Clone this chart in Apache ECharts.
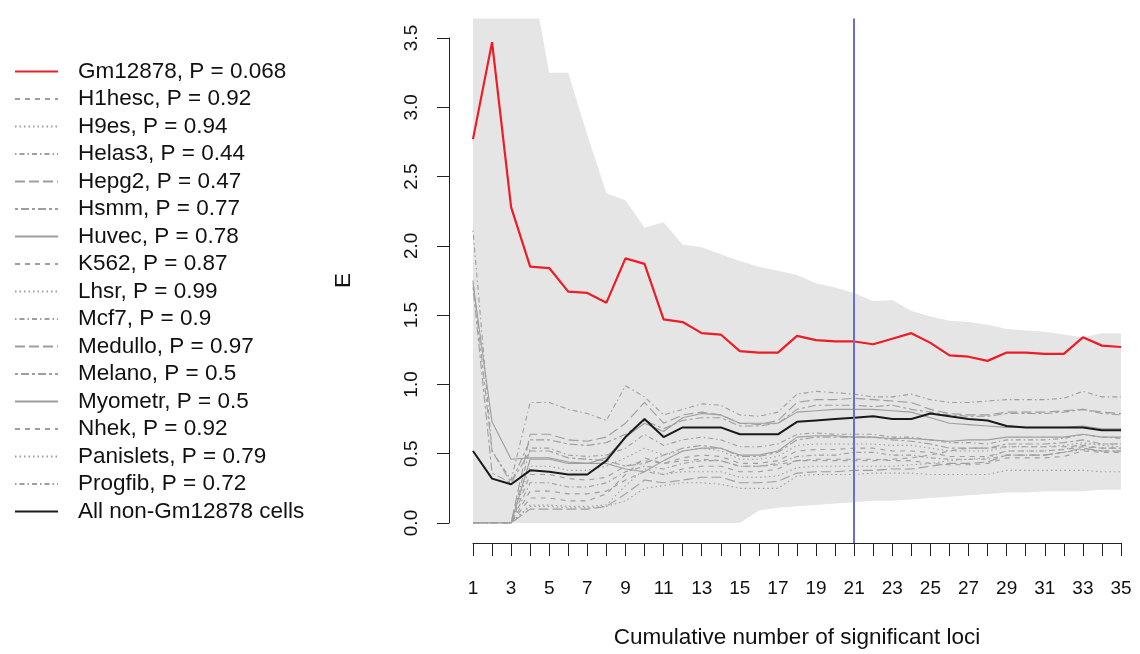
<!DOCTYPE html>
<html lang="en">
<head>
<meta charset="UTF-8" />
<title>E by cumulative number of significant loci</title>
<script src="https://cdn.jsdelivr.net/npm/echarts@6.0.0/dist/echarts.min.js"></script>
<style>
  html, body { margin: 0; padding: 0; background: #fff; }
  #chart { width: 1140px; height: 654px; }
</style>
</head>
<body>
<div id="chart"></div>
<script>
// x categories
const loci = ["1","2","3","4","5","6","7","8","9","10","11","12","13","14","15","16","17","18",
  "19","20","21","22","23","24","25","26","27","28","29","30","31","32","33","34","35"];
const yTicks = [0, 0.5, 1, 1.5, 2, 2.5, 3, 3.5];
const yPlotMax = 3.64; // plot region goes a little past the last tick, like R
const markedLocus = "21";

// grey envelope (values above the plot region are clipped)
const bandHigh = [4.2, 4.2, 4.1, 4.0, 3.25, 3.25, 2.8, 2.38, 2.33, 2.13, 2.17, 2.01, 1.99, 1.94, 1.89, 1.85, 1.82, 1.79,
  1.73, 1.7, 1.66, 1.6, 1.61, 1.53, 1.49, 1.46, 1.45, 1.43, 1.4, 1.39, 1.38, 1.36, 1.34, 1.37, 1.37];
const bandLow = [0, 0, 0, 0, 0, 0, 0, 0, 0, 0, 0, 0, 0, 0, 0, 0.09, 0.11, 0.12,
  0.13, 0.14, 0.15, 0.16, 0.16, 0.17, 0.18, 0.19, 0.2, 0.21, 0.22, 0.22, 0.23, 0.23, 0.23, 0.24, 0.24];

const gm12878 = [2.77, 3.47, 2.28, 1.85, 1.84, 1.67, 1.66, 1.59, 1.91, 1.87, 1.47, 1.45, 1.37, 1.36, 1.24, 1.23, 1.23, 1.35,
  1.32, 1.31, 1.31, 1.29, 1.33, 1.37, 1.3, 1.21, 1.2, 1.17, 1.23, 1.23, 1.22, 1.22, 1.34, 1.28, 1.27];
const allOther = [0.52, 0.32, 0.28, 0.38, 0.37, 0.35, 0.35, 0.45, 0.62, 0.75, 0.62, 0.69, 0.69, 0.69, 0.64, 0.64, 0.64, 0.73,
  0.74, 0.75, 0.76, 0.77, 0.75, 0.75, 0.79, 0.77, 0.75, 0.74, 0.7, 0.69, 0.69, 0.69, 0.69, 0.67, 0.67];

const h1hesc = [0, 0, 0, 0.23, 0.23, 0.21, 0.21, 0.23, 0.31, 0.37, 0.35, 0.39, 0.41, 0.41, 0.37, 0.37, 0.39, 0.45,
  0.46, 0.46, 0.46, 0.46, 0.45, 0.45, 0.43, 0.42, 0.42, 0.43, 0.47, 0.47, 0.47, 0.48, 0.52, 0.51, 0.51];
const h9es = [0, 0, 0, 0.13, 0.13, 0.12, 0.12, 0.13, 0.27, 0.39, 0.35, 0.37, 0.37, 0.37, 0.33, 0.33, 0.34, 0.4,
  0.41, 0.41, 0.41, 0.41, 0.41, 0.42, 0.43, 0.45, 0.46, 0.47, 0.52, 0.52, 0.52, 0.53, 0.57, 0.57, 0.57];
const helas3 = [2.11, 0.52, 0.31, 0.87, 0.87, 0.82, 0.79, 0.74, 0.99, 0.91, 0.78, 0.82, 0.86, 0.85, 0.78, 0.77, 0.8, 0.93,
  0.95, 0.94, 0.93, 0.91, 0.91, 0.93, 0.89, 0.87, 0.87, 0.88, 0.89, 0.89, 0.89, 0.9, 0.95, 0.91, 0.91];
const hepg2 = [0, 0, 0, 0.64, 0.64, 0.6, 0.59, 0.62, 0.72, 0.87, 0.72, 0.78, 0.8, 0.78, 0.72, 0.71, 0.74, 0.87,
  0.89, 0.89, 0.9, 0.89, 0.88, 0.87, 0.82, 0.79, 0.78, 0.78, 0.8, 0.8, 0.8, 0.81, 0.82, 0.8, 0.79];
const hsmm = [1.75, 0.52, 0.29, 0.52, 0.52, 0.47, 0.46, 0.45, 0.41, 0.43, 0.49, 0.54, 0.56, 0.54, 0.48, 0.48, 0.51, 0.6,
  0.62, 0.62, 0.62, 0.62, 0.6, 0.59, 0.57, 0.54, 0.54, 0.54, 0.57, 0.57, 0.57, 0.58, 0.6, 0.57, 0.57];
const huvec = [1.73, 0.73, 0.46, 0.47, 0.47, 0.44, 0.43, 0.43, 0.39, 0.37, 0.45, 0.52, 0.54, 0.54, 0.49, 0.49, 0.52, 0.62,
  0.63, 0.63, 0.62, 0.62, 0.61, 0.61, 0.6, 0.59, 0.6, 0.6, 0.62, 0.62, 0.62, 0.62, 0.64, 0.62, 0.62];
const k562 = [0, 0, 0, 0.35, 0.35, 0.32, 0.31, 0.33, 0.41, 0.45, 0.43, 0.47, 0.49, 0.48, 0.43, 0.43, 0.45, 0.52,
  0.53, 0.53, 0.54, 0.54, 0.52, 0.52, 0.51, 0.48, 0.48, 0.48, 0.52, 0.52, 0.52, 0.53, 0.55, 0.54, 0.54];
const lhsr = [0, 0, 0, 0.12, 0.12, 0.11, 0.11, 0.12, 0.16, 0.25, 0.27, 0.29, 0.29, 0.28, 0.25, 0.25, 0.25, 0.34,
  0.35, 0.35, 0.35, 0.36, 0.36, 0.36, 0.35, 0.35, 0.35, 0.35, 0.38, 0.38, 0.38, 0.38, 0.38, 0.37, 0.37];
const mcf7 = [0, 0, 0, 0.29, 0.29, 0.26, 0.26, 0.29, 0.37, 0.41, 0.39, 0.43, 0.45, 0.45, 0.41, 0.41, 0.43, 0.48,
  0.49, 0.49, 0.51, 0.51, 0.49, 0.49, 0.47, 0.46, 0.46, 0.46, 0.49, 0.49, 0.49, 0.51, 0.53, 0.52, 0.52];
const medullo = [0, 0, 0, 0.1, 0.1, 0.1, 0.1, 0.12, 0.21, 0.31, 0.29, 0.31, 0.33, 0.33, 0.29, 0.29, 0.3, 0.36,
  0.37, 0.37, 0.38, 0.38, 0.39, 0.39, 0.41, 0.43, 0.43, 0.44, 0.49, 0.49, 0.49, 0.51, 0.54, 0.52, 0.52];
const melano = [1.7, 0.36, 0.29, 0.6, 0.6, 0.57, 0.56, 0.58, 0.64, 0.74, 0.68, 0.74, 0.76, 0.76, 0.7, 0.7, 0.72, 0.82,
  0.85, 0.85, 0.85, 0.84, 0.85, 0.82, 0.8, 0.78, 0.77, 0.77, 0.79, 0.79, 0.79, 0.8, 0.82, 0.79, 0.78];
const myometr = [0, 0, 0, 0.46, 0.46, 0.43, 0.43, 0.47, 0.62, 0.72, 0.66, 0.76, 0.79, 0.78, 0.72, 0.72, 0.72, 0.8,
  0.81, 0.82, 0.82, 0.82, 0.81, 0.8, 0.76, 0.72, 0.71, 0.7, 0.69, 0.69, 0.69, 0.69, 0.7, 0.68, 0.68];
const nhek = [0, 0, 0, 0.18, 0.18, 0.16, 0.16, 0.21, 0.35, 0.47, 0.43, 0.45, 0.46, 0.45, 0.41, 0.41, 0.42, 0.45,
  0.45, 0.45, 0.45, 0.45, 0.46, 0.47, 0.49, 0.52, 0.54, 0.54, 0.55, 0.55, 0.55, 0.55, 0.56, 0.54, 0.54];
const panislets = [0, 0, 0, 0.41, 0.41, 0.38, 0.38, 0.41, 0.47, 0.54, 0.49, 0.52, 0.54, 0.52, 0.46, 0.46, 0.48, 0.56,
  0.57, 0.57, 0.57, 0.57, 0.56, 0.56, 0.54, 0.52, 0.52, 0.52, 0.55, 0.55, 0.55, 0.56, 0.58, 0.56, 0.55];
const progfib = [0, 0, 0, 0.54, 0.54, 0.49, 0.48, 0.49, 0.54, 0.64, 0.56, 0.6, 0.62, 0.6, 0.55, 0.55, 0.57, 0.64,
  0.65, 0.64, 0.64, 0.64, 0.62, 0.62, 0.6, 0.58, 0.58, 0.57, 0.6, 0.6, 0.6, 0.61, 0.64, 0.62, 0.61];

const cellNames = ["H1hesc", "H9es", "Helas3", "Hepg2", "Hsmm", "Huvec", "K562", "Lhsr",
  "Mcf7", "Medullo", "Melano", "Myometr", "Nhek", "Panislets", "Progfib"];
const cellP = ["0.92", "0.94", "0.44", "0.47", "0.77", "0.78", "0.87", "0.99",
  "0.9", "0.97", "0.5", "0.5", "0.92", "0.79", "0.72"];
const cellValues = [h1hesc, h9es, helas3, hepg2, hsmm, huvec, k562, lhsr,
  mcf7, medullo, melano, myometr, nhek, panislets, progfib];
const gmP = "0.068";

// R line types 2..6 then 1
const dashes = [[5, 5], [1.5, 3], [1.5, 3, 5, 3], [10, 4], [3, 3, 8, 3], "solid"];

const chart = echarts.init(document.getElementById("chart"));

const grey = "#9e9e9e";
const font = "Liberation Sans, Arial, Helvetica, sans-serif";

const gmName = "Gm12878, P = " + gmP;
const allName = "All non-Gm12878 cells";
const legendNames = [gmName];

const series = [
  {
    type: "line", stack: "band", data: bandLow, symbol: "none", silent: true,
    lineStyle: { width: 0, opacity: 0 }, z: 1
  },
  {
    type: "line", stack: "band", data: bandHigh.map((h, i) => h - bandLow[i]), symbol: "none", silent: true,
    lineStyle: { width: 0, opacity: 0 }, areaStyle: { color: "#e5e5e5", opacity: 1 }, z: 1
  }
];

cellNames.forEach((c, i) => {
  const name = c + ", P = " + cellP[i];
  legendNames.push(name);
  series.push({
    name: name, type: "line", data: cellValues[i], symbol: "none", z: 2,
    lineStyle: { color: grey, width: 1.1, type: dashes[i % 6] },
    itemStyle: { color: grey }
  });
});
legendNames.push(allName);

series.push({
  name: allName, type: "line", data: allOther, symbol: "none", z: 3,
  lineStyle: { color: "#1a1a1a", width: 2 }, itemStyle: { color: "#1a1a1a" }
});
series.push({
  name: gmName, type: "line", data: gm12878, symbol: "none", z: 4,
  lineStyle: { color: "#ee1c24", width: 2.2 }, itemStyle: { color: "#ee1c24" }
});
// vertical marker, spans the whole plot region down to the x axis
series.push({
  type: "line", xAxisIndex: 2, yAxisIndex: 2, data: [], z: 5, silent: true,
  markLine: {
    symbol: "none", silent: true, label: { show: false },
    lineStyle: { color: "#6b6bdc", width: 2, type: "solid" },
    data: [{ xAxis: markedLocus }]
  }
});

const option = {
  animation: false,
  backgroundColor: "#fff",
  textStyle: { fontFamily: font },
  grid: [
    { left: 473, right: 19, top: 18.6, bottom: 131 },  // data
    { left: 473, right: 19, top: 38, bottom: 131 },    // visible y axis (0 - 3.5)
    { left: 473, right: 19, top: 18.6, bottom: 111 }   // marker line
  ],
  legend: {
    data: legendNames,
    orient: "vertical",
    left: 14,
    top: 60,
    padding: 0,
    itemWidth: 43,
    itemHeight: 14,
    itemGap: 4.5,
    selectedMode: false,
    itemStyle: { opacity: 0 },
    textStyle: { fontSize: 22.5, lineHeight: 22, color: "#111", fontFamily: font, padding: [0, 0, 0, 15] }
  },
  xAxis: [
    {
      type: "category", data: loci, boundaryGap: false, gridIndex: 0, offset: 20,
      name: "Cumulative number of significant loci", nameLocation: "middle", nameGap: 83,
      nameTextStyle: { fontSize: 22.5, color: "#111", fontFamily: font },
      axisLine: { onZero: false, lineStyle: { color: "#222", width: 1 } },
      axisTick: { interval: 0, length: 13, lineStyle: { color: "#222" } },
      axisLabel: { interval: 1, fontSize: 19, color: "#111", margin: 36, fontFamily: font },
      splitLine: { show: false }
    },
    { type: "category", data: loci, boundaryGap: false, gridIndex: 1, show: false },
    { type: "category", data: loci, boundaryGap: false, gridIndex: 2, show: false }
  ],
  yAxis: [
    { type: "value", min: 0, max: yPlotMax, gridIndex: 0, show: false },
    {
      type: "value", min: yTicks[0], max: yTicks[yTicks.length - 1], interval: 0.5, gridIndex: 1, offset: 24,
      name: "E", nameLocation: "middle", nameGap: 94,
      nameTextStyle: { fontSize: 22.5, color: "#111", fontFamily: font },
      axisLine: { show: true, lineStyle: { color: "#222", width: 1 } },
      axisTick: { show: true, length: 12, lineStyle: { color: "#222" } },
      axisLabel: { rotate: 90, fontSize: 19, color: "#111", margin: 28, fontFamily: font,
        formatter: (v) => v.toFixed(1) },
      splitLine: { show: false }
    },
    { type: "value", min: 0, max: 1, gridIndex: 2, show: false }
  ],
  series: series
};

chart.setOption(option);
</script>
</body>
</html>
